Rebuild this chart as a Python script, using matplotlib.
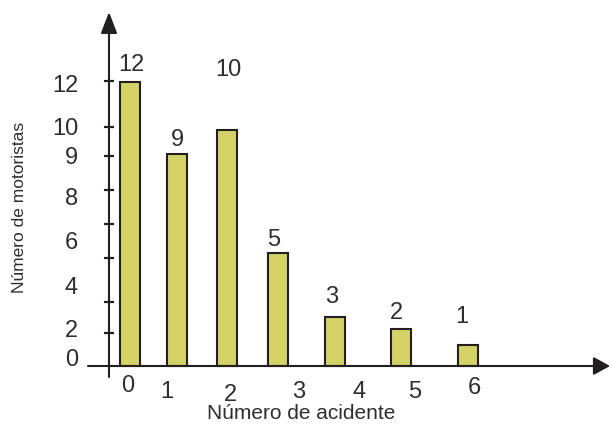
import numpy as np
import matplotlib
matplotlib.use("Agg")
import matplotlib.pyplot as plt
from matplotlib.ticker import NullLocator

# ---------------- data ----------------
acidentes = [0, 1, 2, 3, 4, 5, 6]            # number of accidents (categories)
motoristas = [12, 9, 10, 5, 3, 2, 1]         # number of drivers
x_labels = ["0", "1", "2", "3", "4", "5", "6"]
y_label_values = [12, 10, 9, 8, 6, 4, 2, 0]
y_label_texts = ["12", "10", "9", "8", "6", "4", "2", "0"]

# ---------------- layout (hand-drawn figure calibration, pixels) ----------------
W, H = 611, 425
BASE_Y = 366                      # x-axis line, pixels from top
AXIS_X = 109                      # y-axis line, pixels from left
# horizontal position of each category on the drawn axis (px)
x_cal_px = [129.5, 177, 227, 277, 334.5, 401, 468]
# drawn height of values above baseline (px)
y_cal_vals = [0, 1, 2, 3, 5, 9, 10, 12]
y_cal_px = [0, 21, 37, 49, 113, 212, 236, 284]
tick_heights_px = [285, 239, 210, 176, 142, 108, 64, 33]
ylab_offsets = [-10, -5, -10, -26, -21, -9, -8, 0]
val_offsets = [(1.5, 11), (0, 8), (1, 54), (-3, 7), (-2.5, 14), (-5, 10), (-6, 22)]
xlab_offsets = [(-1.5, -26), (-10, -32), (3, -35), (22, -32), (24.5, -32), (14, -32), (6, -28)]

INK = "#231f20"
TXT = "#2e2e2e"
BAR = "#d5d267"
FONT = "Liberation Sans"


def make_interp(xp, fp):
    xp = np.asarray(xp, float)
    fp = np.asarray(fp, float)

    def f(x):
        x = np.asarray(x, float)
        y = np.interp(x, xp, fp)
        sl_lo = (fp[1] - fp[0]) / (xp[1] - xp[0])
        sl_hi = (fp[-1] - fp[-2]) / (xp[-1] - xp[-2])
        y = np.where(x < xp[0], fp[0] + (x - xp[0]) * sl_lo, y)
        y = np.where(x > xp[-1], fp[-1] + (x - xp[-1]) * sl_hi, y)
        return y
    return f


fx = make_interp(acidentes, x_cal_px)
fx_inv = make_interp(x_cal_px, acidentes)
fy = make_interp(y_cal_vals, y_cal_px)
fy_inv = make_interp(y_cal_px, y_cal_vals)

fig = plt.figure(figsize=(W / 100, H / 100), dpi=100)
fig.patch.set_facecolor("white")
ax = fig.add_axes([0, 0, 1, 1])
ax.set_facecolor("none")
ax.set_xscale("function", functions=(fx, fx_inv))
ax.set_yscale("function", functions=(fy, fy_inv))
ax.set_xlim(float(fx_inv(0)), float(fx_inv(W)))
ax.set_ylim(float(fy_inv(-(H - BASE_Y))), float(fy_inv(BASE_Y)))

# bars (width ~20 px each)
widths = 20.0 / np.gradient(np.asarray(x_cal_px, float))
ax.bar(acidentes, motoristas, width=widths, color=BAR, edgecolor=INK,
       linewidth=1.5, zorder=3)

# value labels above bars
for c, v, (dx, dy) in zip(acidentes, motoristas, val_offsets):
    ax.annotate(str(v), xy=(c, v), xytext=(dx, dy), textcoords="offset pixels",
                ha="center", va="baseline", fontsize=17, color=TXT,
                family=FONT, annotation_clip=False)

# x tick labels
for c, lab, (dx, dy) in zip(acidentes, x_labels, xlab_offsets):
    ax.annotate(lab, xy=(c, 0), xytext=(dx, dy), textcoords="offset pixels",
                ha="center", va="baseline", fontsize=17, color=TXT,
                family=FONT, annotation_clip=False)

# y tick labels
for v, lab, dy in zip(y_label_values, y_label_texts, ylab_offsets):
    ax.annotate(lab, xy=(78, v), xycoords=("figure pixels", "data"),
                xytext=(0, dy), textcoords="offset pixels",
                ha="right", va="baseline", fontsize=17, color=TXT,
                family=FONT, annotation_clip=False)

# y tick marks on the drawn axis
for s in ax.spines.values():
    s.set_visible(False)
ax.spines["left"].set_position(("axes", AXIS_X / W))
ax.set_yticks(fy_inv(np.asarray(tick_heights_px, float)))
ax.yaxis.set_minor_locator(NullLocator())
ax.xaxis.set_minor_locator(NullLocator())
ax.tick_params(axis="y", direction="inout", length=6.5, width=1.6,
               color=INK, labelleft=False)
ax.tick_params(axis="x", length=0, labelbottom=False)

# axes with arrows
ax.annotate("", xy=(AXIS_X, H - 12), xytext=(AXIS_X, H - 377),
            xycoords="figure pixels", textcoords="figure pixels",
            arrowprops=dict(arrowstyle="-|>,head_length=1.3,head_width=0.5",
                            lw=1.5, color=INK, shrinkA=0, shrinkB=0),
            annotation_clip=False)
ax.annotate("", xy=(W - 1, H - BASE_Y), xytext=(88, H - BASE_Y),
            xycoords="figure pixels", textcoords="figure pixels",
            arrowprops=dict(arrowstyle="-|>,head_length=1.0,head_width=0.55",
                            lw=1.5, color=INK, shrinkA=0, shrinkB=0),
            annotation_clip=False)

# axis titles
fig.text(301 / W, (H - 404) / H, "Número de acidente", ha="center", va="top",
         fontsize=15, color=TXT, family=FONT)
fig.text(20 / W, (H - 207) / H, "Número de motoristas", ha="center",
         va="center", rotation=90, fontsize=12.5, color=TXT, family=FONT)

fig.savefig("out.png", dpi=100)
